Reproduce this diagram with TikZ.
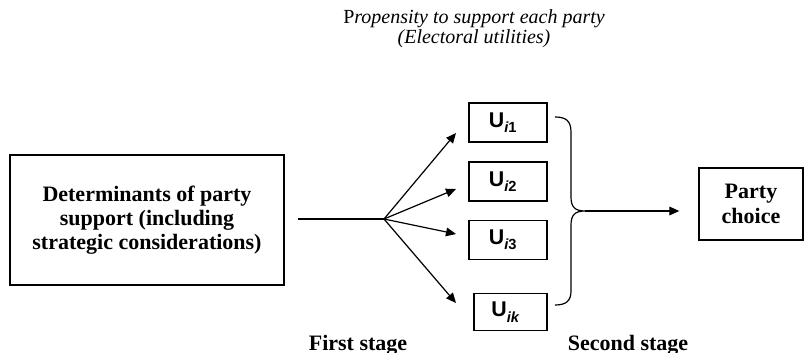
\documentclass[tikz,border=0pt]{standalone}
\usepackage{fontspec}
\setmainfont{Liberation Serif}
\setsansfont{Liberation Sans}
\usetikzlibrary{positioning}
\usetikzlibrary{arrows.meta}
\newcommand{\util}[1]{\textsf{\bfseries U\raisebox{-0.5ex}{\fontsize{11}{11}\selectfont{\itshape i}#1}}\hspace*{8pt}}

\begin{document}
\begin{tikzpicture}[x=0.75pt,y=-0.75pt,>={Triangle[length=7.5pt,width=6.5pt]},line width=0.9pt,
		block/.style={rectangle,draw=black,line width=1pt,align=center,font=\fontsize{16.5}{18}\selectfont\bfseries},
		ubox/.style={rectangle,draw=black,line width=1pt,minimum width=58.5pt,minimum height=29.25pt,inner sep=0pt,font=\fontsize{16}{16}\selectfont},
		stage/.style={font=\fontsize{16.5}{18}\selectfont\bfseries,anchor=base}]
		\useasboundingbox (0,0) rectangle (804,353);
		\node[align=center,font=\fontsize{15}{15}\selectfont\itshape] (title) at (474,29) {{\upshape P}ropensity to support each party\\(Electoral utilities)};
		
		\node[block,minimum width=205.5pt,minimum height=97.5pt] (det) at (147,220) {Determinants of party\\support (including\\strategic considerations)};
		\node[ubox] (u1) at (508,122.5) {\util{1}};
		\node[ubox,below=14pt of u1] (u2) {\util{2}};
		\node[ubox,below=13.5pt of u2] (u3) {\util{3}};
		\node[ubox,below=24.75pt of u3,xshift=1.9pt,minimum width=54.75pt,minimum height=27.75pt] (uk) {\util{\itshape k}};
		\node[block,font=\fontsize{16.5}{18.75}\selectfont\bfseries,minimum width=78pt,minimum height=54pt] (choice) at (751,204) {Party\\choice};
		
		\node[stage] (first) at (358,350) {First stage};
		\node[stage] (second) at (628,350) {Second stage};
		
		\coordinate (fan) at (384,219);
		\coordinate (t1) at (456,133);
		\coordinate (t2) at (456,189);
		\coordinate (t3) at (456,234);
		\coordinate (t4) at (456,303);
		\coordinate (tip) at (585,211);
		
		\draw[shorten <=9.75pt] (det.east |- fan) -- (fan);
		\foreach \t in {t1,t2,t3,t4}
			\draw[->] (fan) -- (\t);
		% brace
		\draw (555,117) .. controls (566,117) and (571,121) .. (571,132) -- (571,197) .. controls (571,207) and (575,211) .. (tip) .. controls (575,211) and (571,215) .. (571,225) -- (571,291) .. controls (571,301) and (566,305) .. (555,305);
		\draw[->,shorten >=14.25pt] (tip) -- (tip -| choice.west);
		
\end{tikzpicture}
\end{document}
